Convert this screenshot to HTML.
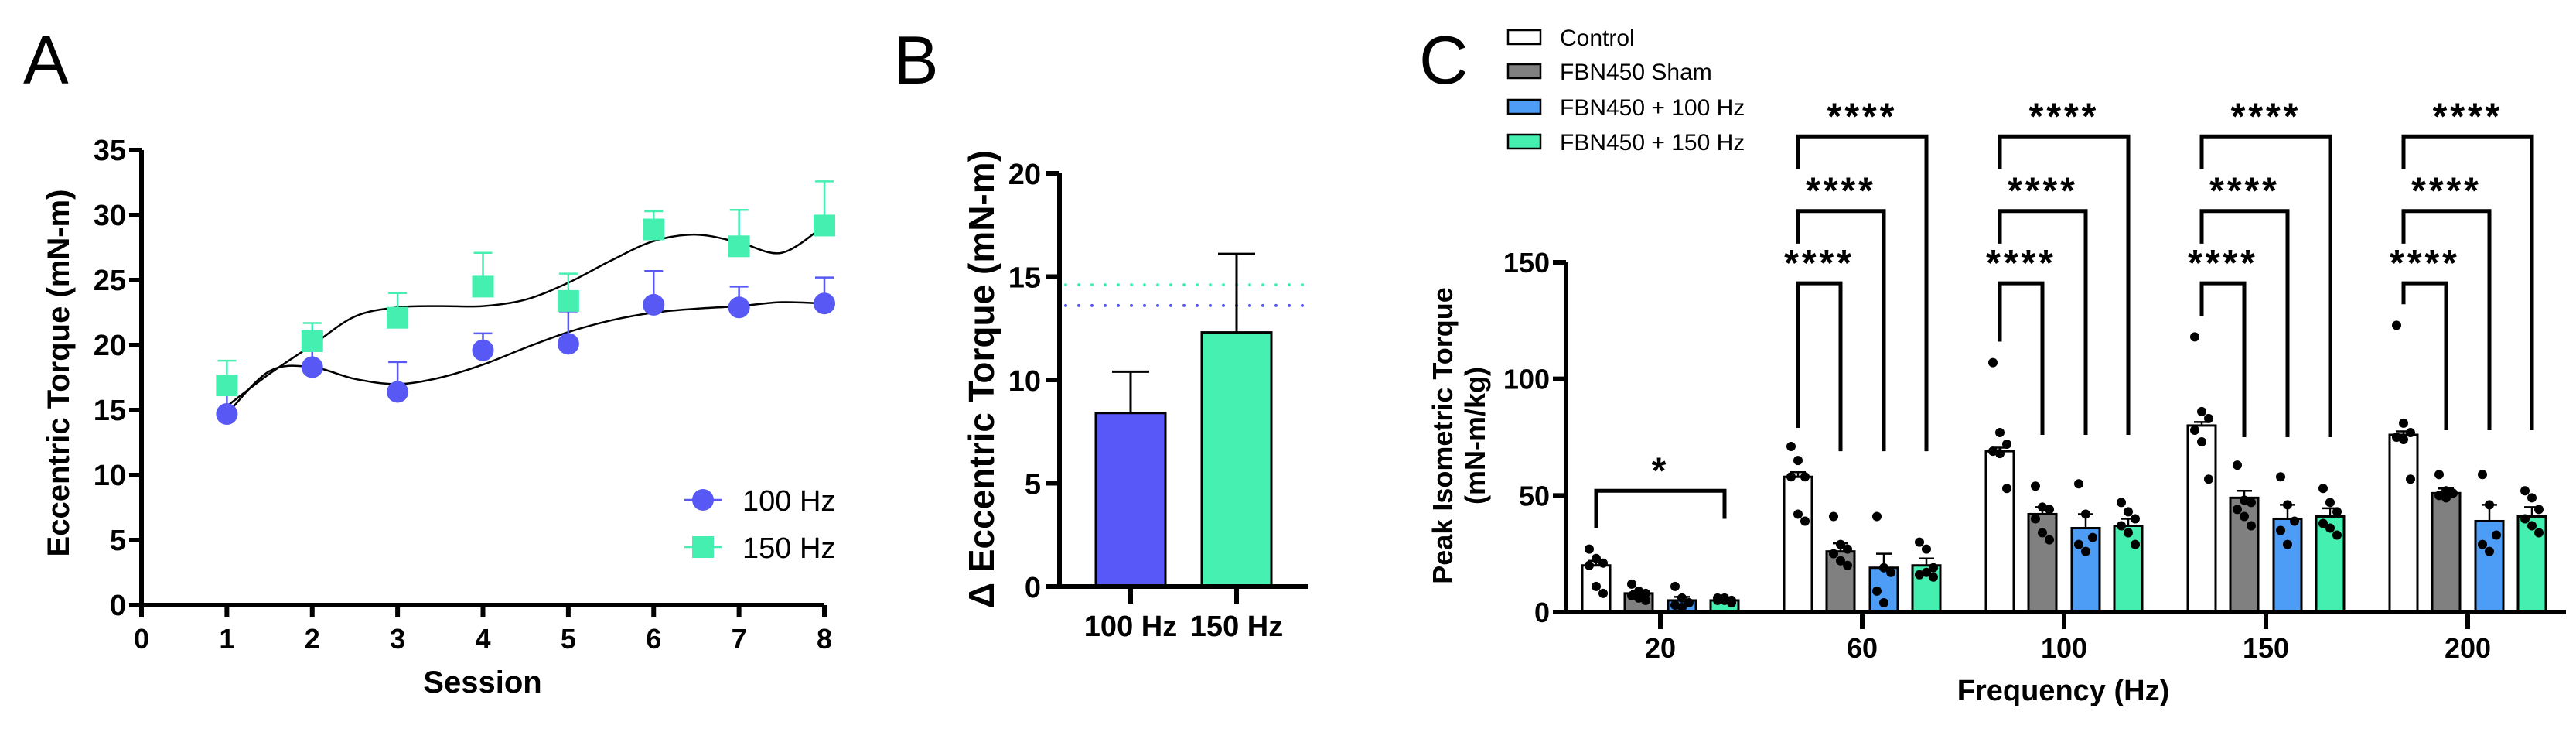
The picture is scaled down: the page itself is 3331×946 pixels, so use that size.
<!DOCTYPE html>
<html><head><meta charset="utf-8"><style>
html,body{margin:0;padding:0;background:#fff;}
svg{display:block;font-family:"Liberation Sans",Arial,sans-serif;}
</style></head><body>
<svg id="fig" width="3331" height="946" viewBox="0 0 3331 946" xmlns="http://www.w3.org/2000/svg">
<text x="30" y="108" font-size="88">A</text>
<text x="1155" y="108" font-size="88">B</text>
<text x="1835" y="108" font-size="88">C</text>
<g id="A"></g>
<g id="B"></g>
<g id="C"></g>
</svg>
<script>
// ---- Panel A data ----
const sessions=[1,2,3,4,5,6,7,8];
const a100=[14.7,18.3,16.4,19.6,20.1,23.1,22.9,23.2];
const a100Err=[1.5,2.2,2.3,1.3,2.5,2.6,1.6,2.0];
const a150=[16.9,20.3,22.1,24.5,23.4,28.9,27.6,29.2];
const a150Err=[1.9,1.4,1.9,2.6,2.1,1.4,2.8,3.4];
const fitX=[1,1.5,2,2.5,3,3.5,4,4.5,5,5.5,6,6.5,7,7.5,8];
const a100Fit=[14.7,18.0,18.3,17.4,17.0,17.5,18.5,19.8,21.0,21.9,22.5,22.8,23.0,23.3,23.2];
const a150Fit=[15.3,17.8,20.0,22.2,22.9,23.0,23.0,23.5,24.8,26.5,28.0,28.5,27.9,27.1,29.2];
const aYTicks=[0,5,10,15,20,25,30,35];
const aXTicks=[0,1,2,3,4,5,6,7,8];
// ---- Panel B data ----
const bCats=["100 Hz","150 Hz"];
const bVals=[8.4,12.3];
const bErr=[2.0,3.8];
const bRef=[13.6,14.6];
const bYTicks=[0,5,10,15,20];
// ---- Panel C data ----
const cFreqs=["20","60","100","150","200"];
const cGroups=["Control","FBN450 Sham","FBN450 + 100 Hz","FBN450 + 150 Hz"];
const cControl=[20,58,69,80,76];
const cSham=[8,26,42,49,51];
const c100=[5,19,36,40,39];
const c150=[5,20,37,41,41];
const cControlErr=[2,2,1.5,1.5,1.5];
const cShamErr=[1,3.5,3,3,2];
const c100Err=[1.5,6,6,6,7];
const c150Err=[1,3,3,3.5,4];
const cControlPts=[[27,23,21,20,11,8],[71,65,58,58,42,39],[107,77,72,69,68,53],[118,86,83,78,73,57],[123,81,77,75,74,57]];
const cShamPts=[[12,9,8,7,6,5],[41,29,27,25,22,20],[54,45,44,40,34,31],[63,48,47,44,41,37],[59,52,51,50,49]];
const c100Pts=[[11,6,4,3,2],[41,19,17,9,4],[55,42,32,29,26],[58,46,39,35,29],[59,46,33,29,26]];
const c150Pts=[[6,6,5,5,5,4],[30,27,19,16,17,15],[47,43,40,37,34,29],[53,47,43,38,36,33],[52,49,44,40,37,34]];
const cYTicks=[0,50,100,150];
const cBracketTops=[141,172,204];
const cBracketLeft=[79,116,127,132];
const cBracketRight=[69,76,75,78];
const cSig=["****","****","****"];

const NS="http://www.w3.org/2000/svg";
function mk(parent,tag,attrs,text){const e=document.createElementNS(NS,tag);for(const k in attrs)e.setAttribute(k,attrs[k]);if(text!==undefined)e.textContent=text;parent.appendChild(e);return e;}
function crPath(pts){let d="M"+pts[0][0]+","+pts[0][1];for(let i=0;i<pts.length-1;i++){const p0=pts[Math.max(i-1,0)],p1=pts[i],p2=pts[i+1],p3=pts[Math.min(i+2,pts.length-1)];const c1=[p1[0]+(p2[0]-p0[0])/6,p1[1]+(p2[1]-p0[1])/6],c2=[p2[0]-(p3[0]-p1[0])/6,p2[1]-(p3[1]-p1[1])/6];d+=" C"+c1[0]+","+c1[1]+" "+c2[0]+","+c2[1]+" "+p2[0]+","+p2[1];}return d;}

// ===== Panel A =====
(function(){
const g=document.getElementById('A');
const x=v=>183+(1066-183)*v/8, y=v=>782-(782-194)*v/35;
const blue="#5858f5", green="#45efb0";
let l=mk(g,'path',{d:crPath(fitX.map((s,i)=>[x(s),y(a150Fit[i])])),fill:'none',stroke:'#000','stroke-width':2.5});

l=mk(g,'path',{d:crPath(fitX.map((s,i)=>[x(s),y(a100Fit[i])])),fill:'none',stroke:'#000','stroke-width':2.5});

sessions.forEach((s,i)=>{
 [[a150,a150Err,green,'150hz'],[a100,a100Err,blue,'100hz']].forEach(([v,e,c,n])=>{
  const eb=mk(g,'path',{d:`M${x(s)},${y(v[i])} V${y(v[i]+e[i])} M${x(s)-12},${y(v[i]+e[i])} H${x(s)+12}`,stroke:c,'stroke-width':2.5,fill:'none'});
  
 });
});
sessions.forEach((s,i)=>{
 const sq=mk(g,'rect',{x:x(s)-14,y:y(a150[i])-14,width:28,height:28,fill:green});
 
 const c=mk(g,'circle',{cx:x(s),cy:y(a100[i]),r:14,fill:blue});
 
});
mk(g,'path',{d:`M${x(0)},${y(35)} V${y(0)} H${x(8)}`,stroke:'#000','stroke-width':6,fill:'none',});
aYTicks.forEach(t=>{mk(g,'line',{x1:x(0)-16,x2:x(0),y1:y(t),y2:y(t),stroke:'#000','stroke-width':6});
 const tx=mk(g,'text',{x:x(0)-20,y:y(t)+13,'font-size':38,'font-weight':'bold','text-anchor':'end'},t);
 });
aXTicks.forEach(t=>{mk(g,'line',{x1:x(t),x2:x(t),y1:y(0),y2:y(0)+16,stroke:'#000','stroke-width':6});
 const tx=mk(g,'text',{x:x(t),y:y(0)+56,'font-size':36,'font-weight':'bold','text-anchor':'middle'},t);
 });
mk(g,'text',{x:624,y:895,'font-size':40,'font-weight':'bold','text-anchor':'middle',},'Session');
mk(g,'text',{transform:'translate(89,482) rotate(-90)','font-size':40,'font-weight':'bold','text-anchor':'middle',},'Eccentric Torque (mN-m)');
mk(g,'line',{x1:885,x2:933,y1:646,y2:646,stroke:blue,'stroke-width':2.5});
mk(g,'circle',{cx:909,cy:646,r:14,fill:blue,});
mk(g,'text',{x:960,y:660,'font-size':38,},'100 Hz');
mk(g,'line',{x1:885,x2:933,y1:707,y2:707,stroke:green,'stroke-width':2.5});
mk(g,'rect',{x:895,y:693,width:28,height:28,fill:green,});
mk(g,'text',{x:960,y:721,'font-size':38,},'150 Hz');
})();

// ===== Panel B =====
(function(){
const g=document.getElementById('B');
const y=v=>758-(758-224)*v/20;
const centers=[1462,1599], bw=90, cols=["#5858f8","#45f0b0"];
const refCols=["#5858f5","#45efb0"];
bRef.forEach((r,i)=>{const l=mk(g,'line',{x1:1378,x2:1692,y1:y(r),y2:y(r),stroke:refCols[i],'stroke-width':4,'stroke-dasharray':'0 17','stroke-linecap':'round'});
 });
bVals.forEach((v,i)=>{
 const r=mk(g,'rect',{x:centers[i]-bw/2,y:y(v),width:bw,height:y(0)-y(v),fill:cols[i],stroke:'#000','stroke-width':3});
 
 const e=mk(g,'path',{d:`M${centers[i]},${y(v)} V${y(v+bErr[i])} M${centers[i]-24},${y(v+bErr[i])} H${centers[i]+24}`,stroke:'#000','stroke-width':3,fill:'none'});
 
 mk(g,'line',{x1:centers[i],x2:centers[i],y1:y(0),y2:y(0)+22,stroke:'#000','stroke-width':6});
 const t=mk(g,'text',{x:centers[i],y:822,'font-size':38,'font-weight':'bold','text-anchor':'middle'},bCats[i]);
 
});
mk(g,'path',{d:`M1370,${y(20)} V${y(0)} H1692`,stroke:'#000','stroke-width':6,fill:'none',});
bYTicks.forEach(t=>{mk(g,'line',{x1:1352,x2:1370,y1:y(t),y2:y(t),stroke:'#000','stroke-width':6});
 const tx=mk(g,'text',{x:1346,y:y(t)+14,'font-size':38,'font-weight':'bold','text-anchor':'end'},t);
 });
mk(g,'text',{transform:'translate(1285,490) rotate(-90)','font-size':46,'font-weight':'bold','text-anchor':'middle',},'Δ Eccentric Torque (mN-m)');
})();

// ===== Panel C =====
(function(){
const g=document.getElementById('C');
const y=v=>791-(791-339)*v/150;
const xc=i=>2147+261*i;
const offs=[-83,-28,28,83], bw=36;
const fills=["#ffffff","#808080","#4d9cf6","#45efb0"];
const vals=[cControl,cSham,c100,c150], errs=[cControlErr,cShamErr,c100Err,c150Err], pts=[cControlPts,cShamPts,c100Pts,c150Pts];
const names=['control','sham','100hz','150hz'];
cFreqs.forEach((f,i)=>{
 for(let k=0;k<4;k++){
  const cx=xc(i)+offs[k], v=vals[k][i];
  const r=mk(g,'rect',{x:cx-bw/2,y:y(v),width:bw,height:y(0)-y(v),fill:fills[k],stroke:'#000','stroke-width':3});
  
  const e=mk(g,'path',{d:`M${cx},${y(v)} V${y(v+errs[k][i])} M${cx-10},${y(v+errs[k][i])} H${cx+10}`,stroke:'#000','stroke-width':2.5,fill:'none'});
  
  const p=pts[k][i];
  p.forEach((pv,j)=>{const dx=((j%3)-1)*9;
   const c=mk(g,'circle',{cx:cx+dx,cy:y(pv),r:6,fill:'#000'});
   });
 }
 mk(g,'line',{x1:xc(i),x2:xc(i),y1:y(0),y2:y(0)+22,stroke:'#000','stroke-width':6});
 const t=mk(g,'text',{x:xc(i),y:850,'font-size':36,'font-weight':'bold','text-anchor':'middle'},f);
 
});
const bracket=(x1,x2,top,lb,rb,label,name)=>{
 const p=mk(g,'path',{d:`M${x1},${y(lb)} V${y(top)} H${x2} V${y(rb)}`,stroke:'#000','stroke-width':5,fill:'none'});
 
 const t=mk(g,'text',{x:(x1+x2)/2,y:y(top)-10,'font-size':48,'font-weight':'bold','text-anchor':'middle','letter-spacing':'4'},label);
 
};
bracket(xc(0)+offs[0],xc(0)+offs[3],52,36,40,'*','bracket-20hz');
for(let i=1;i<5;i++){
 for(let b=0;b<3;b++){
  const lb = b===0 ? cBracketLeft[i-1] : cBracketTops[b]-14;
  bracket(xc(i)+offs[0],xc(i)+offs[b+1],cBracketTops[b],lb,cBracketRight[i-1],cSig[b],'bracket-'+cFreqs[i]+'hz-'+names[b+1]);
 }
}
mk(g,'path',{d:`M2025,${y(150)} V${y(0)} H3318`,stroke:'#000','stroke-width':6,fill:'none',});
cYTicks.forEach(t=>{mk(g,'line',{x1:2008,x2:2025,y1:y(t),y2:y(t),stroke:'#000','stroke-width':6});
 const tx=mk(g,'text',{x:2004,y:y(t)+13,'font-size':36,'font-weight':'bold','text-anchor':'end'},t);
 });
mk(g,'text',{x:2668,y:905,'font-size':38,'font-weight':'bold','text-anchor':'middle',},'Frequency (Hz)');
mk(g,'text',{transform:'translate(1878,563) rotate(-90)','font-size':36,'font-weight':'bold','text-anchor':'middle',},'Peak Isometric Torque');
mk(g,'text',{transform:'translate(1920,563) rotate(-90)','font-size':36,'font-weight':'bold','text-anchor':'middle',},'(mN-m/kg)');
const ly=[48,92,138,183];
cGroups.forEach((n,k)=>{
 const r=mk(g,'rect',{x:1950,y:ly[k]-9,width:42,height:18,fill:fills[k],stroke:'#000','stroke-width':2.5});
 
 const t=mk(g,'text',{x:2017,y:ly[k]+11,'font-size':30},n);
 
});
})();
</script>
</body></html>
